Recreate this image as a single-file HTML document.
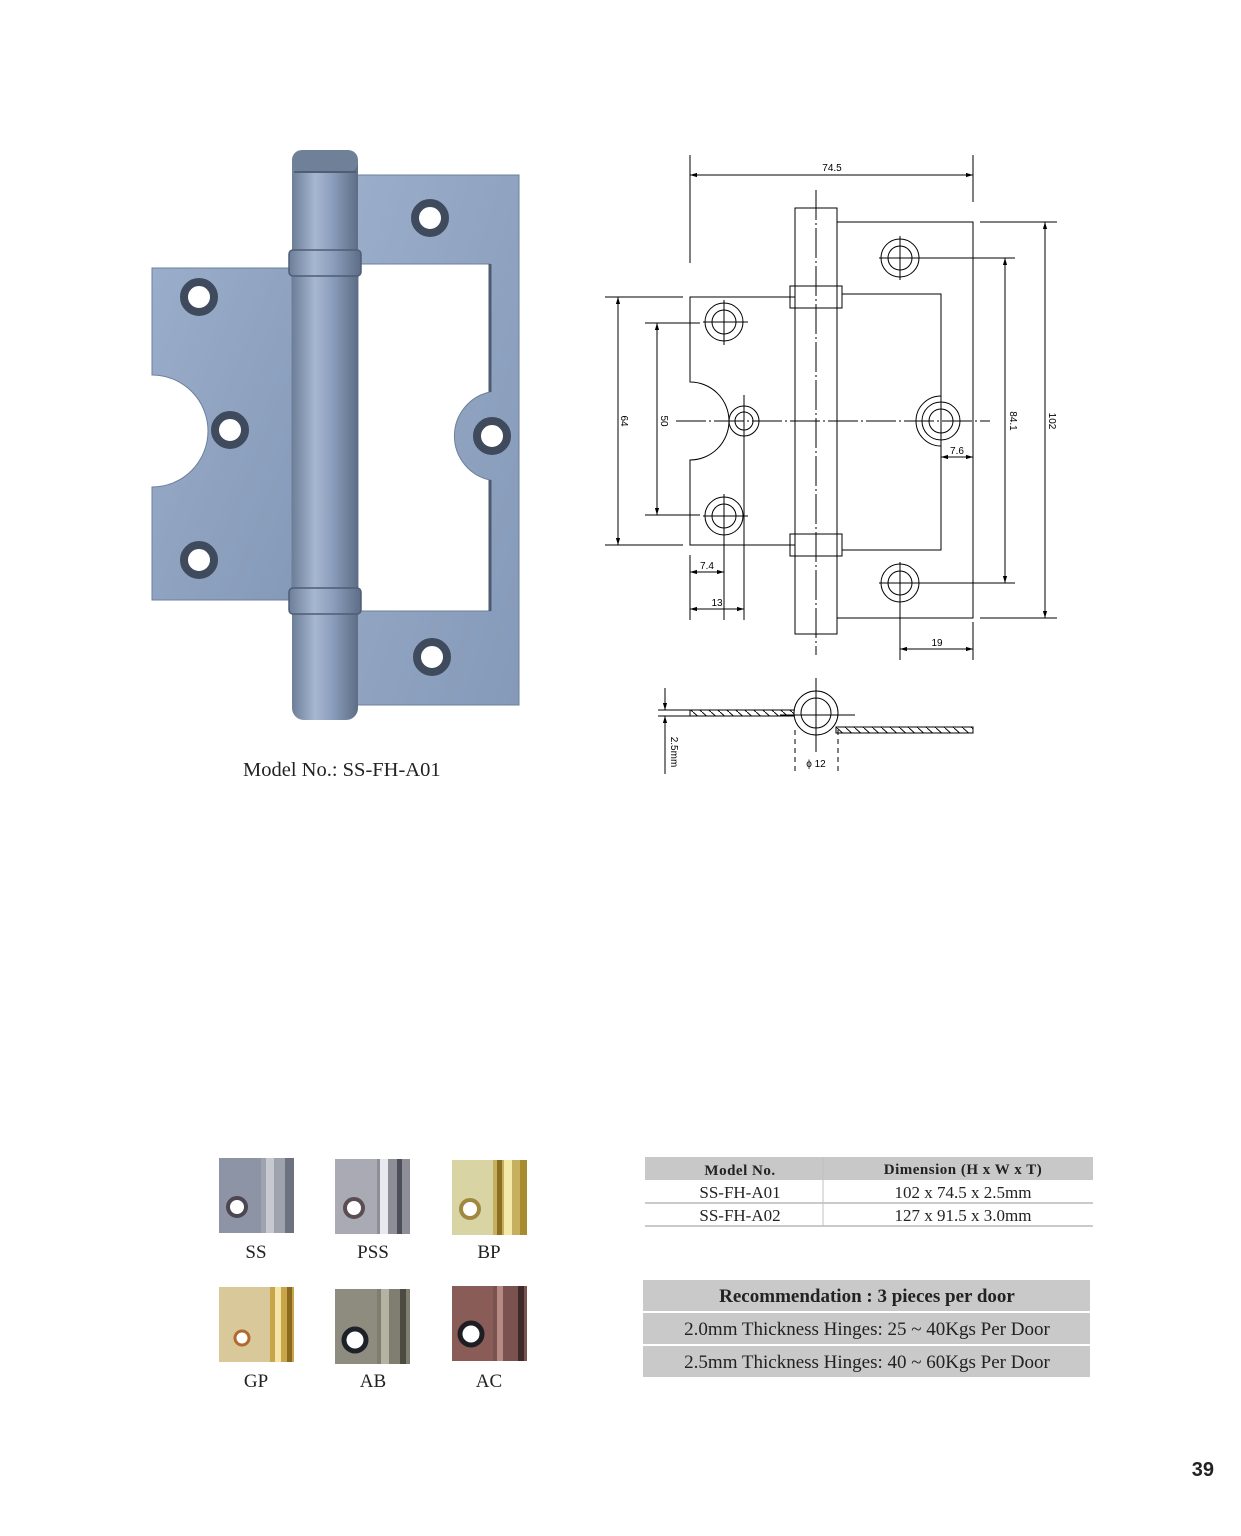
<!DOCTYPE html>
<html><head><meta charset="utf-8"><style>
html,body{margin:0;padding:0;background:#fff}
body{width:1241px;height:1536px;position:relative;overflow:hidden}
svg{position:absolute;left:0;top:0}
</style></head><body>
<svg width="1241" height="1536" viewBox="0 0 1241 1536" xmlns="http://www.w3.org/2000/svg">
<defs>
<linearGradient id="leaf" x1="0" y1="0" x2="1" y2="1"><stop offset="0" stop-color="#9aaecb"/><stop offset="1" stop-color="#8599b8"/></linearGradient>
<linearGradient id="barrel" x1="0" y1="0" x2="1" y2="0"><stop offset="0" stop-color="#6d7e99"/><stop offset="0.35" stop-color="#a6b7d0"/><stop offset="0.6" stop-color="#8c9fbd"/><stop offset="1" stop-color="#5d6d86"/></linearGradient>
<marker id="ar" viewBox="0 0 10 10" refX="10" refY="5" markerWidth="7" markerHeight="7" orient="auto-start-reverse"><path d="M0,2 L10,5 L0,8 Z" fill="#000"/></marker>
<pattern id="hatch" width="9" height="8" patternUnits="userSpaceOnUse"><path d="M0,0 L9,8" stroke="#000" stroke-width="1"/></pattern>
</defs>

<!-- Photo hinge -->
<path d="M355,175 H519 V705 H355 Z M358,264 H490 V392 A45,45 0 0 0 490,480 V611 H358 Z" fill="url(#leaf)" fill-rule="evenodd" stroke="#6d7f9c" stroke-width="1"/>
<path d="M490,264 V392 M490,480 V611" stroke="#4d5a70" stroke-width="3"/>
<path d="M152,268 H292 V600 H152 V487 A56,56 0 0 0 152,375 Z" fill="url(#leaf)" stroke="#6d7f9c" stroke-width="1"/>
<rect x="292" y="150" width="66" height="570" rx="12" fill="url(#barrel)"/>
<rect x="292" y="150" width="66" height="22" rx="10" fill="#6f8099"/>
<path d="M294,172 H356" stroke="#4f5d75" stroke-width="2"/>
<rect x="289" y="250" width="72" height="26" rx="4" fill="url(#barrel)" stroke="#4f5d75" stroke-width="1.5"/>
<rect x="289" y="588" width="72" height="26" rx="4" fill="url(#barrel)" stroke="#4f5d75" stroke-width="1.5"/>
<g fill="#fff" stroke="#3f4a5c" stroke-width="8">
<circle cx="199" cy="297" r="15"/><circle cx="230" cy="430" r="15"/><circle cx="199" cy="560" r="15"/>
<circle cx="430" cy="218" r="15"/><circle cx="492" cy="436" r="15"/><circle cx="432" cy="657" r="15"/>
</g>
<text x="243" y="776" font-family="Liberation Serif, serif" font-size="20.5" fill="#222">Model No.: SS-FH-A01</text>

<!-- Technical drawing -->
<g fill="none" stroke="#000" stroke-width="1">
<path d="M837,222 H973 V618 H837"/>
<path d="M842,294 H941 V550 H842"/>
<path d="M795,297 H690 V382 A39,39 0 0 1 690,460 V545 H795"/>
<rect x="795" y="208" width="42" height="426"/>
<rect x="790" y="286" width="52" height="22"/>
<rect x="790" y="534" width="52" height="22"/>
<circle cx="724" cy="322" r="19"/><circle cx="724" cy="322" r="12"/>
<circle cx="724" cy="516" r="19"/><circle cx="724" cy="516" r="12"/>
<circle cx="744" cy="421" r="15"/><circle cx="744" cy="421" r="9"/>
<circle cx="900" cy="258" r="19"/><circle cx="900" cy="258" r="12"/>
<circle cx="900" cy="583" r="19"/><circle cx="900" cy="583" r="12"/>
<circle cx="941" cy="421" r="19"/><circle cx="941" cy="421" r="12"/>
<path d="M941,396 A25,25 0 0 0 941,446"/>
<path d="M703,322 H748 M724,300 V345 M703,516 H748 M724,494 V620 M879,258 H1015 M900,236 V280 M879,583 H1015 M900,562 V660"/>
<path d="M744,395 V620"/>
<path d="M676,421 H990" stroke-dasharray="30,3,2,3"/>
<path d="M816,190 V655" stroke-dasharray="30,3,2,3"/>
<path d="M690,155 V263 M973,155 V202 M690,555 V620 M973,622 V660"/>
<path d="M605,297 H683 M605,545 H683 M645,323 H700 M645,515 H700 M980,222 H1057 M980,618 H1057 M941,440 V460"/>
<path d="M690,175 H973" marker-start="url(#ar)" marker-end="url(#ar)"/>
<path d="M618,297 V545" marker-start="url(#ar)" marker-end="url(#ar)"/>
<path d="M657,323 V515" marker-start="url(#ar)" marker-end="url(#ar)"/>
<path d="M1005,258 V583" marker-start="url(#ar)" marker-end="url(#ar)"/>
<path d="M1045,222 V618" marker-start="url(#ar)" marker-end="url(#ar)"/>
<path d="M941,457 H973" marker-start="url(#ar)" marker-end="url(#ar)"/>
<path d="M690,572 H724" marker-start="url(#ar)" marker-end="url(#ar)"/>
<path d="M690,609 H744" marker-start="url(#ar)" marker-end="url(#ar)"/>
<path d="M900,649 H973" marker-start="url(#ar)" marker-end="url(#ar)"/>
<rect x="690" y="710" width="105" height="6" fill="url(#hatch)"/>
<rect x="836" y="727" width="137" height="6" fill="url(#hatch)"/>
<circle cx="816" cy="713" r="22" fill="#fff"/>
<circle cx="816" cy="713" r="15"/>
<path d="M816,678 V752 M780,715 H855"/>
<path d="M795,730 V772 M838,730 V772" stroke-dasharray="5,4"/>
<path d="M658,710 H690 M658,716 H690"/>
<path d="M665,688 V710" marker-end="url(#ar)"/>
<path d="M665,774 V716" marker-end="url(#ar)"/>
</g>
<g font-family="Liberation Sans, sans-serif" font-size="10" fill="#000">
<text x="832" y="171" text-anchor="middle">74.5</text>
<text x="957" y="454" text-anchor="middle">7.6</text>
<text x="707" y="569" text-anchor="middle">7.4</text>
<text x="717" y="606" text-anchor="middle">13</text>
<text x="937" y="646" text-anchor="middle">19</text>
<text x="816" y="767" text-anchor="middle">ϕ 12</text>
<text transform="translate(621,421) rotate(90)" text-anchor="middle">64</text>
<text transform="translate(661,421) rotate(90)" text-anchor="middle">50</text>
<text transform="translate(1010,421) rotate(90)" text-anchor="middle">84.1</text>
<text transform="translate(1049,421) rotate(90)" text-anchor="middle">102</text>
<text transform="translate(671,752) rotate(90)" text-anchor="middle">2.5mm</text>
</g>

<!-- Swatches -->
<rect x="219" y="1158" width="75" height="75" fill="#8d94a6"/>
<rect x="261" y="1158" width="33" height="75" fill="#9ea3ad"/><rect x="266" y="1158" width="8" height="75" fill="#c6c9d0"/><rect x="285" y="1158" width="9" height="75" fill="#6d7280"/>
<circle cx="237" cy="1207" r="9" fill="#fff" stroke="#4c4650" stroke-width="4"/>
<rect x="335" y="1159" width="75" height="75" fill="#aaaab4"/>
<rect x="377" y="1159" width="33" height="75" fill="#8e8e99"/><rect x="380" y="1159" width="8" height="75" fill="#e8e8ee"/><rect x="397" y="1159" width="5" height="75" fill="#4e4e5a"/>
<circle cx="354" cy="1208" r="9" fill="#fff" stroke="#5a4e52" stroke-width="4"/>
<rect x="452" y="1160" width="75" height="75" fill="#d9d4a4"/>
<rect x="493" y="1160" width="34" height="75" fill="#c6b060"/><rect x="497" y="1160" width="5" height="75" fill="#8a7020"/><rect x="504" y="1160" width="8" height="75" fill="#f3e9a8"/><rect x="520" y="1160" width="7" height="75" fill="#a88a30"/>
<circle cx="470" cy="1209" r="9" fill="#fff" stroke="#a08840" stroke-width="4"/>
<rect x="219" y="1287" width="75" height="75" fill="#d9c89a"/>
<rect x="270" y="1287" width="24" height="75" fill="#c9a54a"/><rect x="275" y="1287" width="6" height="75" fill="#f5e4a8"/><rect x="287" y="1287" width="5" height="75" fill="#8a6a20"/>
<circle cx="242" cy="1338" r="7" fill="#fff" stroke="#b06a30" stroke-width="3"/>
<rect x="335" y="1289" width="75" height="75" fill="#8d8c7e"/>
<rect x="377" y="1289" width="33" height="75" fill="#7f7e70"/><rect x="381" y="1289" width="8" height="75" fill="#b4b2a0"/><rect x="400" y="1289" width="6" height="75" fill="#4c4b42"/>
<circle cx="355" cy="1340" r="11" fill="#fff" stroke="#1e2228" stroke-width="5"/>
<rect x="452" y="1286" width="75" height="75" fill="#8a5c58"/>
<rect x="493" y="1286" width="34" height="75" fill="#7a5350"/><rect x="497" y="1286" width="6" height="75" fill="#b58a84"/><rect x="518" y="1286" width="6" height="75" fill="#3e2a2a"/>
<circle cx="471" cy="1334" r="11" fill="#fff" stroke="#1e1e22" stroke-width="5"/>
<g font-family="Liberation Serif, serif" font-size="19" fill="#222" text-anchor="middle">
<text x="256" y="1258">SS</text><text x="373" y="1258">PSS</text><text x="489" y="1258">BP</text>
<text x="256" y="1387">GP</text><text x="373" y="1387">AB</text><text x="489" y="1387">AC</text>
</g>

<rect x="645" y="1157" width="448" height="23" fill="#c8c8c8"/>
<path d="M645,1203 H1093 M645,1226 H1093" stroke="#b8b8b8" stroke-width="1.5"/>
<path d="M823,1157 V1226" stroke="#c0c0c0" stroke-width="1"/>
<g font-family="Liberation Serif, serif" fill="#222" text-anchor="middle">
<text x="740" y="1175" font-size="15" font-weight="bold" letter-spacing="0.5">Model No.</text>
<text x="963" y="1174" font-size="15" font-weight="bold" letter-spacing="0.5">Dimension (H x W x T)</text>
<text x="740" y="1198" font-size="17">SS-FH-A01</text>
<text x="963" y="1198" font-size="17">102 x 74.5 x 2.5mm</text>
<text x="740" y="1221" font-size="17">SS-FH-A02</text>
<text x="963" y="1221" font-size="17">127 x 91.5 x 3.0mm</text>
</g>

<rect x="643" y="1280" width="447" height="31" fill="#c9c9c9"/>
<rect x="643" y="1313" width="447" height="31" fill="#c9c9c9"/>
<rect x="643" y="1346" width="447" height="31" fill="#c9c9c9"/>
<g font-family="Liberation Serif, serif" fill="#222" text-anchor="middle">
<text x="867" y="1302" font-size="19" font-weight="bold">Recommendation : 3 pieces per door</text>
<text x="867" y="1335" font-size="19">2.0mm Thickness Hinges: 25 ~ 40Kgs Per Door</text>
<text x="867" y="1368" font-size="19">2.5mm Thickness Hinges: 40 ~ 60Kgs Per Door</text>
</g>

<text x="1214" y="1476" text-anchor="end" font-family="Liberation Sans, sans-serif" font-size="20" font-weight="bold" fill="#222">39</text>
</svg>
</body></html>
